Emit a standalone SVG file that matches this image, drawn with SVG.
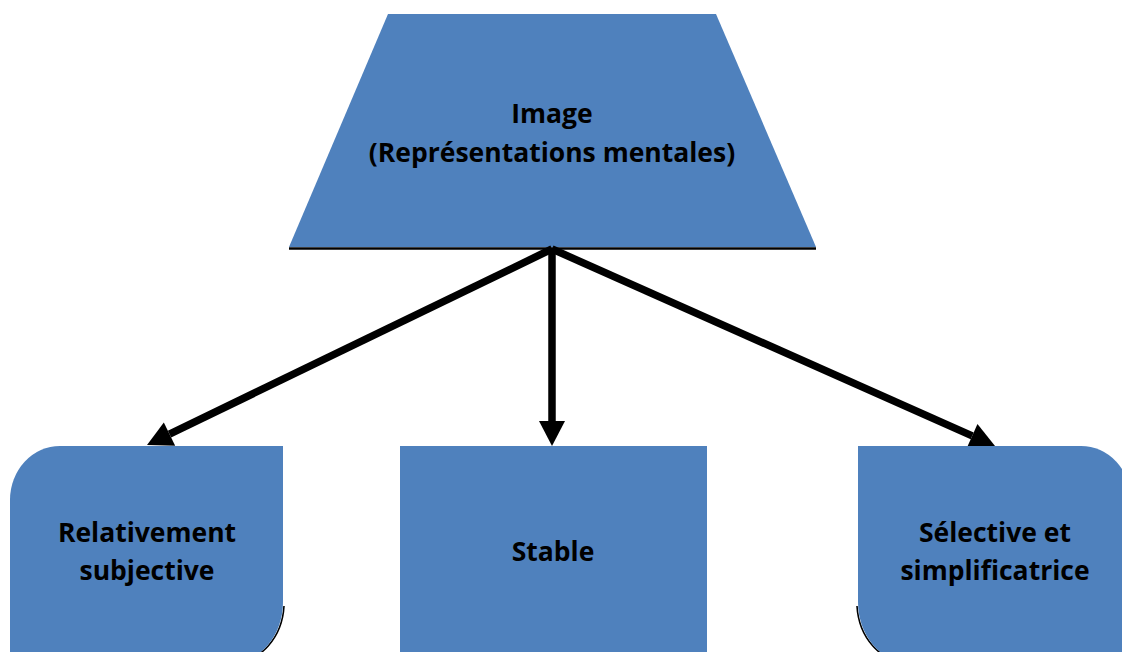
<svg xmlns="http://www.w3.org/2000/svg" width="1122" height="652" viewBox="0 0 1122 652">
  <style>
    .shape { fill: #4F81BD; }
    .edge { fill: none; stroke: #000; stroke-width: 1.6; }
    .label { font-family: "Open Sans", "Liberation Sans", sans-serif; font-weight: 700; font-size: 26.5px; fill: #000; text-anchor: middle; }
    .link { stroke: #000; stroke-width: 7.5; fill: none; marker-end: url(#head); }
  </style>
  <defs>
    <marker id="head" markerUnits="userSpaceOnUse" markerWidth="30" markerHeight="30" viewBox="0 -15 30 30" refX="0" refY="0" orient="auto" overflow="visible">
      <path d="M0,-13 L25,0 L0,13 Z" fill="#000"/>
    </marker>
  </defs>
  <rect width="1122" height="652" fill="#fff"/>

  <!-- top trapezoid -->
  <g id="image">
    <line x1="289" y1="248.5" x2="816" y2="248.5" stroke="#000" stroke-width="2.5"/>
    <polygon class="shape" points="388,14 716,14 816,247 289,247"/>
    <text class="label" x="552" y="123">Image</text>
    <text class="label" x="552" y="162">(Représentations mentales)</text>
  </g>

  <!-- connectors -->
  <g id="connectors">
    <line class="link" x1="552" y1="249" x2="552" y2="421"/>
    <line class="link" x1="552" y1="249" x2="169.5" y2="434.1"/>
    <line class="link" x1="552" y1="249" x2="972.2" y2="435.9"/>
  </g>

  <!-- left node -->
  <g id="relativement">
    <path class="edge" d="M284,606 A50,60 0 0 1 234.5,662"/>
    <path class="shape" d="M10,500 A50,54 0 0 1 60,446 L283,446 L283,602 A50,60 0 0 1 233,662 L10,662 Z"/>
    <text class="label" x="147" y="542">Relativement</text>
    <text class="label" x="147" y="580">subjective</text>
  </g>

  <!-- middle node -->
  <g id="stable">
    <rect class="shape" x="400" y="446" width="307" height="216"/>
    <text class="label" x="553" y="561">Stable</text>
  </g>

  <!-- right node -->
  <g id="selective">
    <path class="edge" d="M857,606 A50,60 0 0 0 906.6,662"/>
    <path class="shape" d="M858,446 L1081,446 A50,54 0 0 1 1131,500 L1131,662 L908,662 A50,60 0 0 1 858,602 Z"/>
    <text class="label" x="995" y="542">Sélective et</text>
    <text class="label" x="995" y="580">simplificatrice</text>
  </g>
</svg>
